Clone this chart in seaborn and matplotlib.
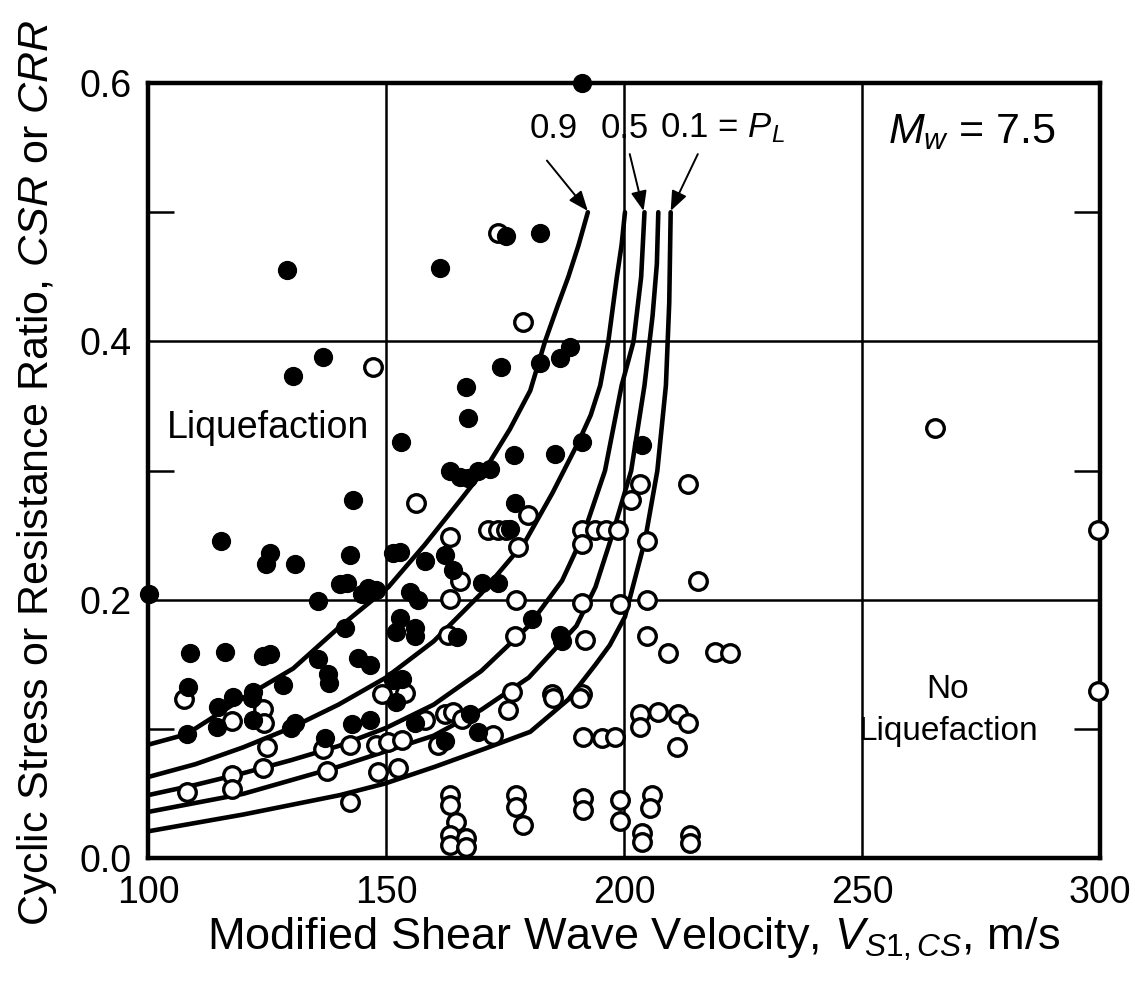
import matplotlib
matplotlib.use("Agg")
import matplotlib.pyplot as plt
import seaborn as sns
import pandas as pd
import numpy as np

# Case-history points: liquefied sites (filled) and non-liquefied sites (open)
liq_vs = [191.2, 129.3, 161.3, 175.2, 182.4, 136.8, 130.5, 174.1, 166.9, 182.4,
          186.6, 188.7, 167.3, 153.2, 176.8, 163.4, 165.5, 167.3, 169.4, 171.8,
          143.1, 177.1, 185.4, 191.1, 203.7, 115.4, 125.6, 124.7, 130.9, 100.2,
          135.8, 108.8, 116.2, 124.2, 125.6, 135.8, 137.9, 138.1, 128.4, 108.5,
          122.1, 117.9, 140.3, 142.4, 151.5, 152.9, 162.4, 158.2, 164.1, 141.7,
          146.3, 144.9, 148.0, 155.0, 156.8, 170.1, 173.6, 141.4, 152.9, 152.2,
          156.1, 156.1, 165.0, 144.2, 146.6, 153.3, 151.5, 180.6, 186.6, 186.9,
          114.8, 121.8, 114.4, 122.1, 108.1, 130.1, 130.9, 137.2, 162.4, 142.8,
          146.6, 169.4, 176.1, 152.1, 156.1, 167.6]
liq_csr = [0.600, 0.455, 0.457, 0.482, 0.484, 0.388, 0.373, 0.380, 0.365, 0.383,
           0.387, 0.396, 0.341, 0.322, 0.312, 0.300, 0.295, 0.294, 0.300, 0.301,
           0.277, 0.275, 0.313, 0.322, 0.320, 0.246, 0.236, 0.228, 0.228, 0.205,
           0.199, 0.159, 0.160, 0.157, 0.158, 0.154, 0.143, 0.136, 0.134, 0.133,
           0.129, 0.125, 0.212, 0.235, 0.236, 0.237, 0.235, 0.230, 0.223, 0.213,
           0.209, 0.205, 0.208, 0.206, 0.200, 0.213, 0.213, 0.178, 0.186, 0.175,
           0.178, 0.172, 0.171, 0.155, 0.150, 0.139, 0.138, 0.185, 0.173, 0.168,
           0.117, 0.124, 0.102, 0.107, 0.096, 0.101, 0.105, 0.093, 0.091, 0.104,
           0.107, 0.098, 0.255, 0.121, 0.105, 0.112]

non_vs = [173.6, 178.8, 147.3, 156.4, 179.9, 163.4, 203.4, 201.5, 213.4, 191.1,
          193.9, 196.3, 198.8, 204.8, 177.8, 165.5, 163.4, 177.4, 163.1, 177.1,
          149.1, 154.0, 176.4, 191.1, 215.6, 191.2, 199.2, 204.8, 191.7, 204.8,
          209.3, 219.1, 222.3, 184.8, 191.1, 107.6, 117.7, 124.2, 124.4, 124.9,
          136.8, 124.2, 117.7, 117.7, 108.1, 137.5, 142.4, 148.4, 152.6, 142.4,
          148.0, 150.5, 153.3, 161.0, 172.5, 163.4, 163.4, 164.8, 163.4, 163.4,
          166.9, 166.9, 177.4, 177.4, 178.8, 185.1, 190.8, 191.4, 195.3, 198.1,
          203.4, 203.4, 207.2, 211.4, 213.5, 211.1, 191.4, 191.4, 199.2, 199.2,
          205.8, 205.5, 203.7, 203.7, 213.9, 213.9, 265.3, 299.6, 299.6, 171.5,
          173.6, 175.3, 158.2, 162.4, 164.1, 165.9, 175.7]
non_csr = [0.484, 0.415, 0.380, 0.275, 0.266, 0.249, 0.290, 0.277, 0.290, 0.254,
           0.254, 0.254, 0.254, 0.246, 0.241, 0.215, 0.201, 0.200, 0.173, 0.172,
           0.127, 0.128, 0.129, 0.243, 0.215, 0.198, 0.197, 0.200, 0.169, 0.172,
           0.159, 0.160, 0.159, 0.127, 0.127, 0.123, 0.106, 0.116, 0.105, 0.0865,
           0.085, 0.070, 0.0646, 0.0535, 0.0517, 0.068, 0.044, 0.067, 0.070, 0.088,
           0.088, 0.090, 0.092, 0.088, 0.0956, 0.049, 0.041, 0.0285, 0.018, 0.0104,
           0.0156, 0.009, 0.049, 0.040, 0.026, 0.124, 0.124, 0.094, 0.093, 0.094,
           0.112, 0.102, 0.1136, 0.112, 0.1046, 0.0865, 0.0466, 0.0375, 0.045, 0.029,
           0.049, 0.039, 0.0195, 0.013, 0.018, 0.0118, 0.333, 0.254, 0.1296, 0.254,
           0.254, 0.254, 0.107, 0.112, 0.1136, 0.108, 0.115]

# Probability-of-liquefaction boundary curves (P_L = 0.9 ... 0.1)
curve_pl = ["0.9", "0.7", "0.5", "0.3", "0.1"]
curve_vs = [
    [100, 108, 120.4, 130.5, 140.2, 150.5, 158.2, 166, 171.5, 176, 180.3, 183.4, 186, 188.3, 190.4, 192.4],
    [100, 110, 120, 130, 140, 150, 160, 170, 179.2, 185, 190.4, 193, 195.0, 196.7, 198.5, 199.5, 200.2],
    [100, 110, 120, 130, 140, 150, 160, 170, 180, 187, 191.4, 196, 199.5, 202.0, 203.6, 204.3],
    [100, 120, 140, 160, 170, 180, 190, 194, 197.5, 201.5, 204.3, 206.0, 206.9, 207.2],
    [100, 120, 140.3, 149.8, 160.3, 170.8, 180.3, 188.3, 194, 197, 200.2, 204.4, 207, 208.8, 209.5, 209.8],
]
curve_crr = [
    [0.088, 0.096, 0.125, 0.147, 0.179, 0.210, 0.243, 0.279, 0.305, 0.332, 0.362, 0.400, 0.427, 0.450, 0.474, 0.500],
    [0.063, 0.073, 0.086, 0.101, 0.119, 0.140, 0.168, 0.205, 0.245, 0.283, 0.322, 0.343, 0.366, 0.400, 0.450, 0.475, 0.500],
    [0.049, 0.057, 0.066, 0.076, 0.087, 0.101, 0.119, 0.145, 0.180, 0.215, 0.250, 0.300, 0.366, 0.400, 0.450, 0.500],
    [0.036, 0.050, 0.071, 0.095, 0.115, 0.140, 0.180, 0.210, 0.250, 0.300, 0.366, 0.420, 0.460, 0.500],
    [0.021, 0.034, 0.049, 0.058, 0.071, 0.085, 0.098, 0.123, 0.150, 0.165, 0.187, 0.246, 0.300, 0.366, 0.430, 0.500],
]

x_ticks = [100, 150, 200, 250, 300]
y_ticks = [0.0, 0.2, 0.4, 0.6]
y_minor = [0.1, 0.3, 0.5]

sns.set_theme(style="white")
plt.rcParams["font.family"] = ["Liberation Sans", "DejaVu Sans"]
plt.rcParams["mathtext.fontset"] = "custom"
plt.rcParams["mathtext.rm"] = "Liberation Sans"
plt.rcParams["mathtext.it"] = "Liberation Sans:italic"
plt.rcParams["mathtext.bf"] = "Liberation Sans:bold"
plt.rcParams["text.color"] = "black"

fig = plt.figure(figsize=(11.35, 9.88), dpi=100)
ax = fig.add_axes([0.1304, 0.1311, 0.8388, 0.7849])

ax.set_xlim(100, 300)
ax.set_ylim(0, 0.6)

# grid
for xv in x_ticks[1:-1]:
    ax.axvline(xv, color="black", lw=1.8, zorder=1)
for yv in y_ticks[1:-1]:
    ax.axhline(yv, color="black", lw=1.8, zorder=1)

# curves
rows = []
for pl, xs, ys in zip(curve_pl, curve_vs, curve_crr):
    for i, (xv, yv) in enumerate(zip(xs, ys)):
        rows.append({"pl": pl, "order": i, "vs": xv, "crr": yv})
curves_df = pd.DataFrame(rows)
sns.lineplot(data=curves_df, x="vs", y="crr", units="pl", estimator=None,
             sort=False, color="black", lw=3.3, ax=ax, zorder=3)

# case histories
liq_df = pd.DataFrame({"vs": liq_vs, "csr": liq_csr})
non_df = pd.DataFrame({"vs": non_vs, "csr": non_csr})
sns.scatterplot(data=non_df, x="vs", y="csr", s=160, facecolor="white",
                edgecolor="black", linewidth=2.4, ax=ax, zorder=4, clip_on=False)
sns.scatterplot(data=liq_df, x="vs", y="csr", s=165, color="black",
                edgecolor="black", linewidth=1, ax=ax, zorder=5, clip_on=False)

# axes styling
for sp in ax.spines.values():
    sp.set_linewidth(3.2)
    sp.set_color("black")
ax.set_xticks(x_ticks)
ax.set_yticks(y_ticks)
ax.set_xticklabels([str(v) for v in x_ticks])
ax.set_yticklabels([f"{v:.1f}" for v in y_ticks])
ax.tick_params(axis="both", which="major", length=0, labelsize=27, pad=12,
               labelcolor="black")
ax.set_yticks(y_minor, minor=True)
ax.tick_params(axis="y", which="minor", direction="in", length=19, width=1.8,
               left=True, right=True, color="black")

ax.set_xlabel(r"Modified Shear Wave Velocity, $V_{S1,CS}$, m/s", fontsize=32.5,
              color="black", va="center")
ax.set_ylabel(r"Cyclic Stress or Resistance Ratio, $CSR$ or $CRR$", fontsize=31,
              color="black", va="center")
ax.xaxis.set_label_coords(0.51, -0.105)
ax.yaxis.set_label_coords(-0.117, 0.497)

# annotations
ax.text(104, 0.333, "Liquefaction", fontsize=27, va="center", ha="left")
ax.text(268.0, 0.131, "No", fontsize=24, va="center", ha="center")
ax.text(268.0, 0.098, "Liquefaction", fontsize=24, va="center", ha="center")
ax.text(273, 0.562, r"$M_w$ = 7.5", fontsize=31, va="center", ha="center")

ax.text(185.3, 0.565, "0.9", fontsize=25, va="center", ha="center")
ax.text(200.2, 0.565, "0.5", fontsize=25, va="center", ha="center")
ax.text(207.5, 0.565, r"0.1 = $P_L$", fontsize=25, va="center", ha="left")

arrow_kw = dict(arrowstyle="-|>,head_length=1.0,head_width=0.4", color="black",
                lw=1.4, shrinkA=0, shrinkB=0)
ax.annotate("", xy=(192.4, 0.501), xytext=(183.8, 0.540), arrowprops=arrow_kw)
ax.annotate("", xy=(204.1, 0.501), xytext=(201.2, 0.545), arrowprops=arrow_kw)
ax.annotate("", xy=(209.8, 0.501), xytext=(215.5, 0.545), arrowprops=arrow_kw)

fig.savefig("out.png", dpi=100)
